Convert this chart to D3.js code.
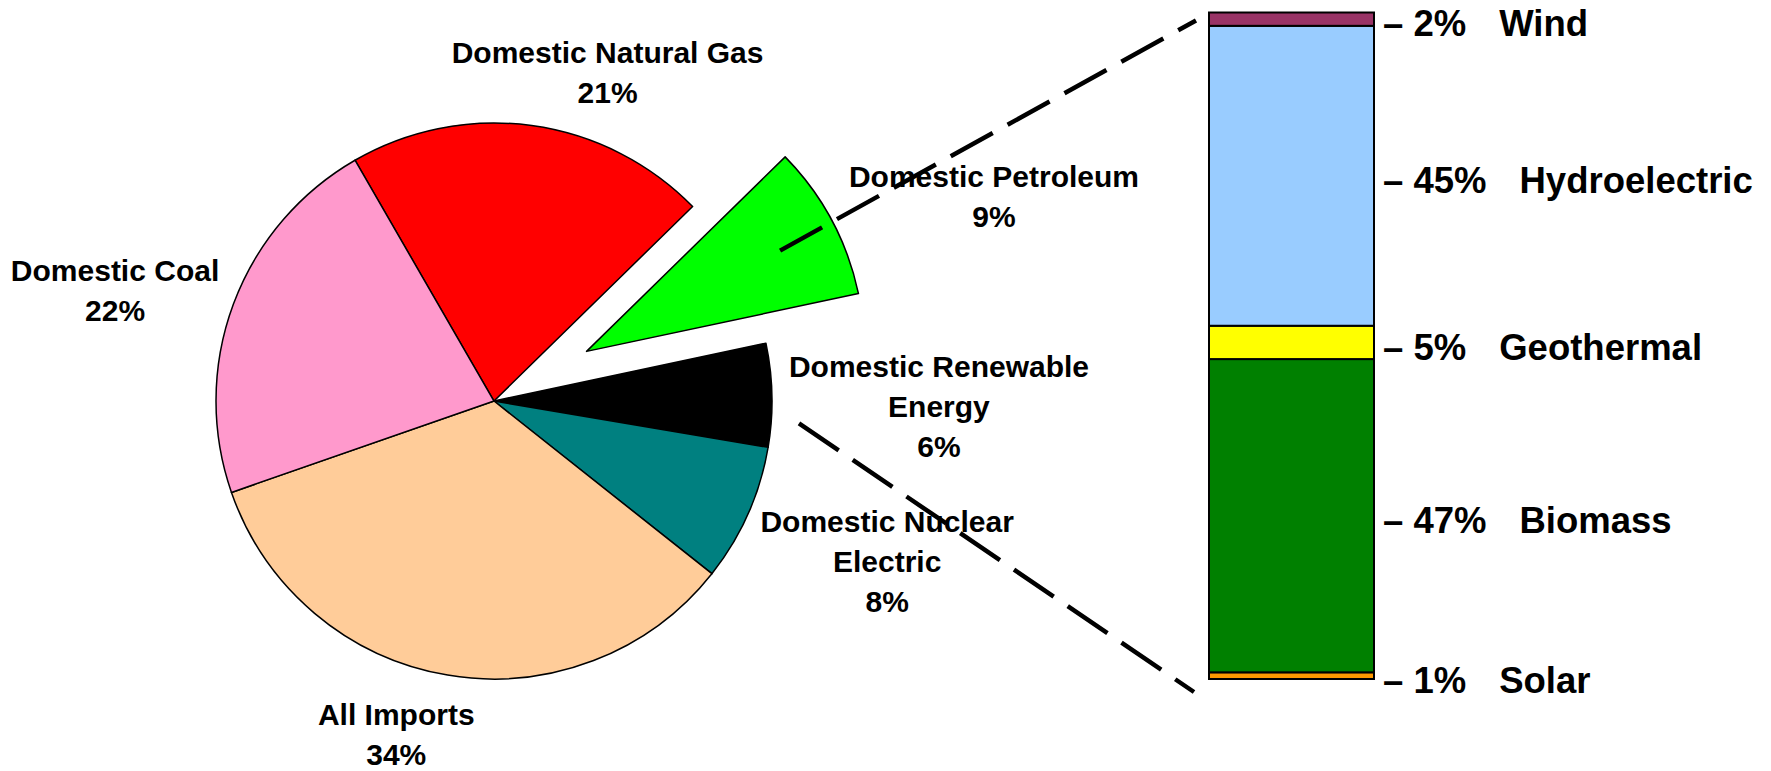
<!DOCTYPE html>
<html>
<head>
<meta charset="utf-8">
<script src="https://cdn.jsdelivr.net/npm/d3@7"></script>
<style>
    body { margin: 0; background: #fff; }
    text { font-family: "Liberation Sans", Arial, sans-serif; font-weight: bold; fill: #000; }
</style>
</head>
<body>
<script>
// Energy sources (pie, clockwise from the top-left)
const sources = ["Domestic Natural Gas", "Domestic Petroleum", "Domestic Renewable Energy",
    "Domestic Nuclear Electric", "All Imports", "Domestic Coal"];
const sourceShares = [21, 9, 6, 8, 34, 22];
const sourceLabelLines = [["Domestic Natural Gas"], ["Domestic Petroleum"], ["Domestic Renewable", "Energy"],
    ["Domestic Nuclear", "Electric"], ["All Imports"], ["Domestic Coal"]];

// Renewable breakdown (bar, top to bottom)
const renewables = ["Wind", "Hydroelectric", "Geothermal", "Biomass", "Solar"];
const renewableShares = [2, 45, 5, 47, 1];

// Colours
const sourceColor = d3.scaleOrdinal()
    .domain(sources)
    .range(["#ff0000", "#00ff00", "#000000", "#008080", "#ffcc99", "#ff99cc"]);
const renewableColor = d3.scaleOrdinal()
    .domain(renewables)
    .range(["#993366", "#99ccff", "#ffff00", "#008000", "#ff9900"]);

// Layout
const width = 1771, height = 771;
const cx = 494, cy = 401, radius = 278;
const explodedSlice = "Domestic Petroleum";
const explodeDist = 105;
const startDeg = -30;
const labelGap = 20, lineH = 40;
// labels were hand moved in the original
const labelNudge = {
    "Domestic Natural Gas": [52, 6],
    "Domestic Petroleum": [17, 5],
    "Domestic Renewable Energy": [-3, 13],
    "All Imports": [-35, 0],
    "Domestic Nuclear Electric": [5, 15],
    "Domestic Coal": [-2, 7]
};

const svg = d3.select("body")
    .append("svg")
    .attr("width", width)
    .attr("height", height);

svg.append("rect").attr("width", width).attr("height", height).attr("fill", "#fff");

// Pie
const pie = d3.pie()
    .sort(null)
    .value(d => d.value)
    .startAngle(startDeg * Math.PI / 180)
    .endAngle((startDeg + 360) * Math.PI / 180);

const arcs = pie(sources.map((s, i) => ({ name: s, value: sourceShares[i], lines: sourceLabelLines[i] })));

const arc = d3.arc().innerRadius(0).outerRadius(radius);
const midAngle = d => (d.startAngle + d.endAngle) / 2;
const pushOut = d => d.data.name === explodedSlice ? explodeDist : 0;

const pieG = svg.append("g")
    .attr("transform", "translate(" + cx + "," + cy + ")");

pieG.selectAll(".slice")
    .data(arcs)
    .enter().append("path")
    .attr("class", "slice")
    .attr("transform", d => {
        const a = midAngle(d), o = pushOut(d);
        return "translate(" + (o * Math.sin(a)) + "," + (-o * Math.cos(a)) + ")";
    })
    .attr("d", arc)
    .style("fill", d => sourceColor(d.data.name))
    .style("stroke", "#000")
    .style("stroke-width", 1.5)
    .style("stroke-linejoin", "round");

// Pie labels: pushed outside the rim along each slice's middle
const labelG = svg.append("g");
arcs.forEach(d => {
    const a = midAngle(d), ux = Math.sin(a), uy = -Math.cos(a);
    const lines = d.data.lines.concat([d.data.value + "%"]);
    const t = labelG.append("text")
        .attr("text-anchor", "middle")
        .style("font-size", "30px");
    lines.forEach((l, i) => {
        t.append("tspan")
            .attr("x", 0)
            .attr("y", (i - (lines.length - 1) / 2) * lineH)
            .attr("dy", "0.36em")
            .text(l);
    });
    const hw = t.node().getBBox().width / 2;
    const hh = lines.length * lineH / 2;
    const n = labelNudge[d.data.name] || [0, 0];
    const r = pushOut(d) + radius + labelGap;
    const x = cx + ux * r + ux * hw + n[0];
    const y = cy + uy * r + uy * hh + n[1];
    t.attr("transform", "translate(" + x + "," + y + ")");
});

// Stacked bar of renewables
const barLeft = 1209, barWidth = 165, barTop = 12.5, barBottom = 679;
const yScale = d3.scaleLinear()
    .domain([0, d3.sum(renewableShares)])
    .range([barBottom, barTop]);

// stack from the bottom (Solar) upwards
let acc = 0;
const stacked = renewables.map((n, i) => ({ name: n, value: renewableShares[i] }))
    .reverse()
    .map(d => {
        const s = { name: d.name, value: d.value, y0: acc, y1: acc + d.value };
        acc += d.value;
        return s;
    });

svg.selectAll(".seg")
    .data(stacked)
    .enter().append("rect")
    .attr("class", "seg")
    .attr("x", barLeft)
    .attr("y", d => yScale(d.y1))
    .attr("width", barWidth)
    .attr("height", d => yScale(d.y0) - yScale(d.y1))
    .style("fill", d => renewableColor(d.name))
    .style("stroke", "#000")
    .style("stroke-width", 2);

const segLabels = svg.selectAll(".seg-label")
    .data(stacked)
    .enter().append("text")
    .attr("class", "seg-label")
    .attr("x", barLeft + barWidth + 9)
    .attr("y", d => (yScale(d.y0) + yScale(d.y1)) / 2 + 4)
    .attr("dy", "0.36em")
    .style("font-size", "36.5px");
segLabels.append("tspan").text(d => "\u2013 " + d.value + "%");
segLabels.append("tspan").attr("dx", 33).text(d => d.name);

// Dashed connectors from the pie to the bar
const petro = arcs.find(d => d.data.name === explodedSlice);
const renew = arcs.find(d => d.data.name === "Domestic Renewable Energy");
const pa = midAngle(petro), pr = explodeDist + radius * 0.79;
const ra = (midAngle(renew) + renew.endAngle) / 2, rr = radius * 1.1;

const connectors = [
    [[cx + pr * Math.sin(pa), cy - pr * Math.cos(pa) + 3], [barLeft - 13, barTop + 8]],
    [[cx + rr * Math.sin(ra), cy - rr * Math.cos(ra)], [barLeft - 15, barBottom + 13]]
];

svg.selectAll(".connector")
    .data(connectors)
    .enter().append("path")
    .attr("class", "connector")
    .attr("d", d3.line())
    .style("fill", "none")
    .style("stroke", "#000")
    .style("stroke-width", 4.5)
    .style("stroke-dasharray", "48,17");
</script>
</body>
</html>
